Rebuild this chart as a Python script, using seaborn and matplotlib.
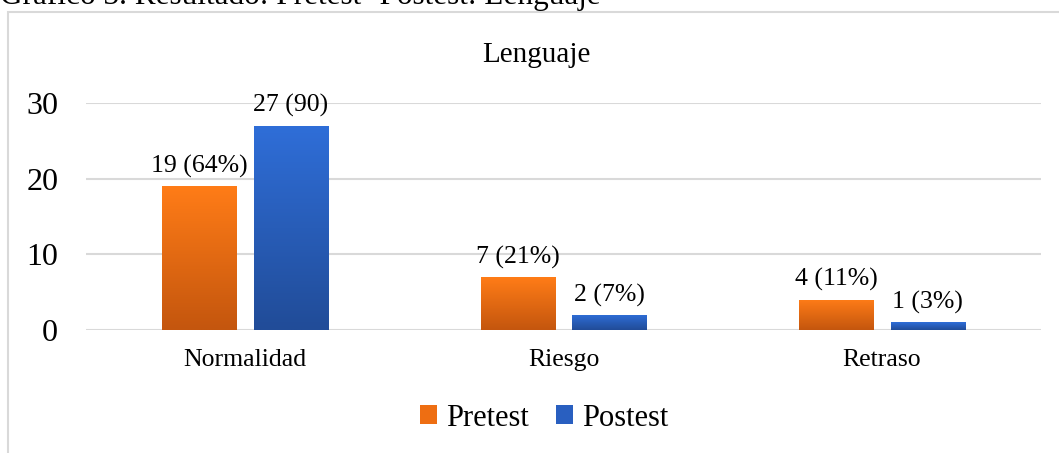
import numpy as np
import pandas as pd
import matplotlib
matplotlib.use("Agg")
import matplotlib.pyplot as plt
import matplotlib.patches as mpatches
from matplotlib.colors import LinearSegmentedColormap
import seaborn as sns

categories = ["Normalidad", "Riesgo", "Retraso"]
series = ["Pretest", "Postest"]
pretest = [19, 7, 4]
postest = [27, 2, 1]
pretest_labels = ["19 (64%)", "7 (21%)", "4 (11%)"]
postest_labels = ["27 (90)", "2 (7%)", "1 (3%)"]
yticks = [0, 10, 20, 30]

df = pd.DataFrame({
    "categoria": categories * 2,
    "serie": [series[0]] * 3 + [series[1]] * 3,
    "valor": pretest + postest,
})

sns.set_theme(style="white")
plt.rcParams["font.family"] = ["Liberation Serif", "DejaVu Serif"]

grad = {
    "Pretest": ("#FF7C17", "#C4560E"),
    "Postest": ("#2F6ED8", "#214C98"),
}
palette = {"Pretest": "#EE6E12", "Postest": "#295FC0"}

fig = plt.figure(figsize=(10.59, 4.53), dpi=100)
ax = fig.add_axes([86 / 1059, 1 - 330 / 453, (1041 - 86) / 1059, (330 - 103) / 453])

sns.barplot(data=df, x="categoria", y="valor", hue="serie", palette=palette,
            width=0.576, gap=0.19, ax=ax, legend=False, zorder=3, linewidth=0)

ax.set_ylim(0, 30)
ax.set_xlim(-0.5, 2.5)
ax.set_yticks(yticks)
ax.set_yticklabels([str(t) for t in yticks], fontsize=23, color="black")
ax.set_xlabel("")
ax.set_ylabel("")
ax.tick_params(axis="y", length=0, pad=20)
ax.tick_params(axis="x", length=0, labelsize=18.5, pad=14, labelcolor="black")
for s in ax.spines.values():
    s.set_visible(False)
ax.grid(axis="y", color="#D9D9D9", linewidth=1.5, zorder=0)

# gradient fill over each bar, clipped to the bar shape
bars = [p for p in ax.patches if p.get_height() > 0]
bar_series = [series[0]] * 3 + [series[1]] * 3
bar_labels = pretest_labels + postest_labels
for p, name, lab in zip(bars, bar_series, bar_labels):
    x0, w, h = p.get_x(), p.get_width(), p.get_height()
    cmap = LinearSegmentedColormap.from_list(name, [grad[name][1], grad[name][0]])
    g = np.linspace(0, 1, 100).reshape(-1, 1)
    im = ax.imshow(g, cmap=cmap, origin="lower", aspect="auto",
                   extent=[x0, x0 + w, 0, h], zorder=4)
    im.set_clip_path(p)
    ax.annotate(lab, (x0 + w / 2, h), xytext=(0, 6), textcoords="offset points",
                ha="center", va="bottom", fontsize=18.5, color="black", zorder=5)
ax.set_xlim(-0.5, 2.5)
ax.set_ylim(0, 30)

# chart frame and titles
fig.add_artist(mpatches.Rectangle((8 / 1059, -0.05), 1.1, 1 - 12 / 453 + 0.05,
                                  transform=fig.transFigure, fill=False,
                                  edgecolor="#D9D9D9", linewidth=1.5))
fig.text(0.0, 1 - 4 / 453, "Gráfico 3. Resultado: Pretest -Postest: Lenguaje",
         fontsize=22.5, ha="left", va="baseline", color="black")
fig.text(536 / 1059, 1 - 55 / 453, "Lenguaje", fontsize=21, ha="center",
         va="center", color="black")

handles = [mpatches.Patch(facecolor=palette[s], edgecolor="none", label=s) for s in series]
fig.legend(handles=handles, loc="center", bbox_to_anchor=(544 / 1059, 1 - 418 / 453),
           ncol=2, frameon=False, fontsize=22, handlelength=0.55, handleheight=0.55,
           handletextpad=0.3, columnspacing=0.9, labelcolor="black")

fig.savefig("out.png", dpi=100)
